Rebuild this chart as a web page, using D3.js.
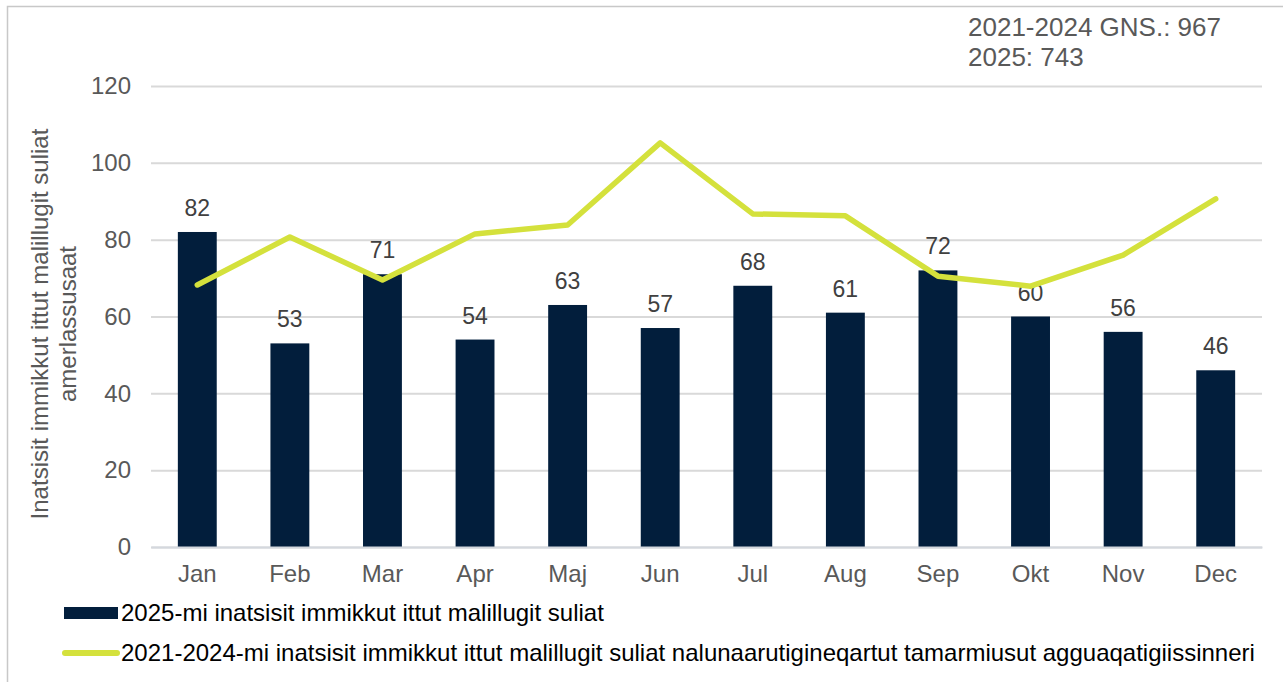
<!DOCTYPE html>
<html lang="kl">

<head>
    <meta charset="UTF-8">
    <title>Inatsisit immikkut ittut malillugit suliat</title>
    <script src="https://d3js.org/d3.v7.min.js"></script>
    <style>
        body {
            margin: 0;
            background: #fff;
        }

        svg {
            display: block;
            font-family: "Liberation Sans", Arial, sans-serif;
        }
    </style>
</head>

<body>
    <svg width="1283" height="682"></svg>
    <script>
        // data
        var months = ['Jan', 'Feb', 'Mar', 'Apr', 'Maj', 'Jun', 'Jul', 'Aug', 'Sep', 'Okt', 'Nov', 'Dec'];
        var cases2025 = [82, 53, 71, 54, 63, 57, 68, 61, 72, 60, 56, 46];
        var avg2021to2024 = [68.2, 80.7, 69.5, 81.5, 83.8, 105.2, 86.7, 86.2, 70.5, 67.9, 76.0, 90.6];
        var yTicks = [0, 20, 40, 60, 80, 100, 120];
        var totals = ['2021-2024 GNS.: 967', '2025: 743'];
        var legendLabels = [
            '2025-mi inatsisit immikkut ittut malillugit suliat',
            '2021-2024-mi inatsisit immikkut ittut malillugit suliat nalunaarutigineqartut tamarmiusut agguaqatigiissinneri'
        ];
        var yTitle = ['Inatsisit immikkut ittut malillugit suliat', 'amerlassusaat'];

        var barColor = '#021e3c';
        var lineColor = '#d4e13c';

        var svg = d3.select('svg');
        // plot box (window.top is read-only, so no "top" here)
        var plotL = 151, plotR = 1262, plotT = 86, plotB = 547;

        // outer frame of the chart area
        svg.append('rect')
            .attr('x', 7.5).attr('y', 6.5)
            .attr('width', 1290).attr('height', 700)
            .style('fill', 'none')
            .style('stroke', '#c8c8c8')
            .style('stroke-width', '1.5px');

        var x = d3.scaleBand().domain(months).range([plotL, plotR]).paddingInner(0.58).paddingOuter(0.29);
        var xc = d3.scalePoint().domain(months).range([plotL, plotR]).padding(0.5);
        var y = d3.scaleLinear().domain([0, 120]).range([plotB, plotT]);

        // gridlines + y labels
        var yAxis = svg.append('g')
            .attr('transform', 'translate(' + plotL + ',0)')
            .call(d3.axisLeft(y).tickValues(yTicks).tickSize(-(plotR - plotL)).tickPadding(20));
        yAxis.select('.domain').remove();
        yAxis.selectAll('line').style('stroke', '#d9d9d9').style('stroke-width', '2px');
        yAxis.selectAll('text')
            .style('font-size', '24px')
            .style('fill', '#595959')
            .style('font-family', '"Liberation Sans", Arial, sans-serif');

        // bars
        svg.append('g').selectAll('rect')
            .data(cases2025)
            .enter()
            .append('rect')
            .attr('x', (d, i) => x(months[i]))
            .attr('width', x.bandwidth())
            .attr('y', d => y(d))
            .attr('height', d => y(0) - y(d))
            .style('fill', barColor);

        // x axis baseline + month labels
        var xAxis = svg.append('g')
            .attr('transform', 'translate(0,' + plotB + ')')
            .call(d3.axisBottom(x).tickSize(0).tickPadding(18));
        xAxis.select('.domain').style('stroke', '#d4d8de').style('stroke-width', '2px');
        xAxis.selectAll('text')
            .style('font-size', '24px')
            .style('fill', '#595959')
            .style('font-family', '"Liberation Sans", Arial, sans-serif');

        // bar value labels
        svg.append('g').selectAll('text')
            .data(cases2025)
            .enter()
            .append('text')
            .attr('x', (d, i) => xc(months[i]))
            .attr('y', d => y(d) - 16)
            .attr('text-anchor', 'middle')
            .style('font-size', '23px')
            .style('fill', '#404040')
            .text(d => d);

        // average line
        var line = d3.line()
            .x((d, i) => xc(months[i]))
            .y(d => y(d));
        svg.append('path')
            .datum(avg2021to2024)
            .attr('d', line)
            .style('fill', 'none')
            .style('stroke', lineColor)
            .style('stroke-width', '5.5px')
            .style('stroke-linejoin', 'round')
            .style('stroke-linecap', 'round');

        // totals in the top right corner
        svg.append('g').selectAll('text')
            .data(totals)
            .enter()
            .append('text')
            .attr('x', 968)
            .attr('y', (d, i) => 36 + i * 30)
            .style('font-size', '26px')
            .style('fill', '#595959')
            .text(d => d);

        // y axis title, two lines
        svg.append('g')
            .attr('transform', 'translate(40,324) rotate(-90)')
            .selectAll('text')
            .data(yTitle)
            .enter()
            .append('text')
            .attr('x', 0)
            .attr('y', (d, i) => 8 + i * 28)
            .attr('text-anchor', 'middle')
            .style('font-size', '24px')
            .style('fill', '#595959')
            .text(d => d);

        // legend
        var legend = svg.append('g');
        legend.append('rect')
            .attr('x', 64).attr('y', 607)
            .attr('width', 54).attr('height', 12)
            .style('fill', barColor);
        legend.append('line')
            .attr('x1', 65).attr('x2', 117)
            .attr('y1', 653).attr('y2', 653)
            .style('stroke', lineColor)
            .style('stroke-width', '6px')
            .style('stroke-linecap', 'round');
        legend.selectAll('text')
            .data(legendLabels)
            .enter()
            .append('text')
            .attr('x', 121)
            .attr('y', (d, i) => 621 + i * 40)
            .style('font-size', '24px')
            .style('fill', '#000')
            .text(d => d);
    </script>
</body>

</html>
